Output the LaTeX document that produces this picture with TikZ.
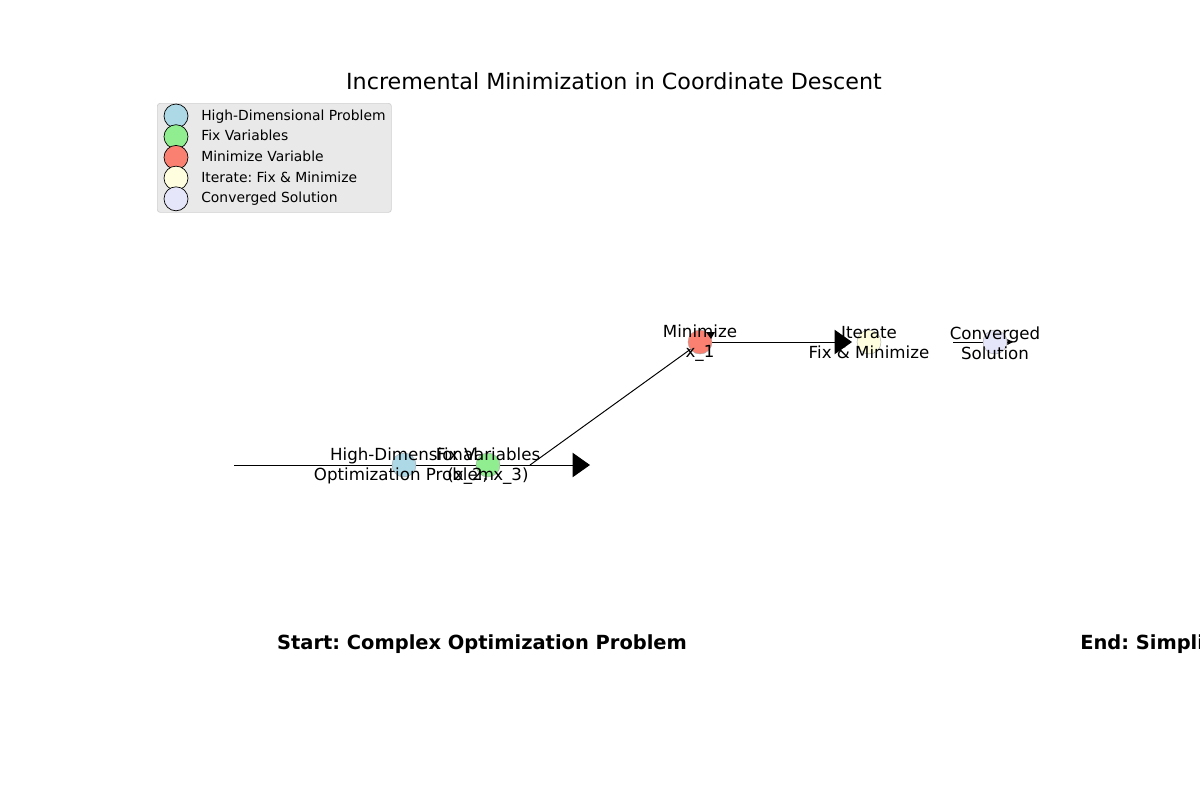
\documentclass[tikz,border=0pt]{standalone}
\usepackage{fontspec}
\setmainfont{DejaVu Sans}
\frenchspacing
\usetikzlibrary{arrows.meta}
\definecolor{cblue}{HTML}{ADD8E6}
\definecolor{cgreen}{HTML}{90EE90}
\definecolor{csalmon}{HTML}{FA8072}
\definecolor{cyellow}{HTML}{FFFFE0}
\definecolor{clav}{HTML}{E6E6FA}
\definecolor{legfill}{HTML}{E9E9E9}
\definecolor{legedge}{HTML}{D0D0D0}
\tikzset{
  gnode/.style={circle, minimum size=24*0.72pt, inner sep=0pt, draw=black!35, line width=0.3pt},
  lnode/.style={circle, minimum size=24*0.72pt, inner sep=0pt, draw=black, line width=0.5pt},
  glabel/.style={align=center, inner sep=0pt, font=\fontsize{12}{14.4}\selectfont},
  legtext/.style={anchor=base west, inner sep=0pt, font=\fontsize{10}{12}\selectfont},
  conn/.style={line width=0.7pt, draw=black},
  bigtip/.style={-{Triangle[length=12.5pt, width=17.5pt]}},
  smalltip/.style={-{Triangle[length=4pt, width=4pt]}},
  boldtext/.style={inner sep=0pt, font=\fontsize{14}{16}\selectfont\bfseries}
}
\begin{document}
\begin{tikzpicture}[x=0.72pt, y=-0.72pt]
\useasboundingbox (0,0) rectangle (1200,800);
\fill[white] (0,0) rectangle (1200,800);
\clip (0,0) rectangle (1200,800);

% title
\node[inner sep=0pt, font=\fontsize{16}{19}\selectfont] (title) at (614,81) {Incremental Minimization in Coordinate Descent};

% legend
\node[draw=legedge, fill=legfill, rounded corners=2pt, line width=0.5pt, minimum width=234*0.72pt, minimum height=109*0.72pt, anchor=north west, inner sep=0pt] (legend) at (157,103) {};
\node[lnode, fill=cblue] (l1) at (176,116) {};
\node[lnode, fill=cgreen] (l2) at (176,136.7) {};
\node[lnode, fill=csalmon] (l3) at (176,157.4) {};
\node[lnode, fill=cyellow] (l4) at (176,178.1) {};
\node[lnode, fill=clav] (l5) at (176,198.8) {};
\node[legtext] (t1) at (201,120) {High-Dimensional Problem};
\node[legtext] (t2) at (201,140.7) {Fix Variables};
\node[legtext] (t3) at (201,161.4) {Minimize Variable};
\node[legtext] (t4) at (201,182.1) {Iterate: Fix \& Minimize};
\node[legtext] (t5) at (201,202.8) {Converged Solution};

% connector coordinates
\coordinate (a1s) at (234,465);
\coordinate (a1e) at (590,465);
\coordinate (a2s) at (530,465);
\coordinate (a2e) at (695,346);
\coordinate (a3s) at (705,342);
\coordinate (a3e) at (852,342);
\coordinate (a4s) at (953,342);
\coordinate (a4e) at (1013,342);

\draw[conn, bigtip] (a1s) -- (a1e);
\draw[conn] (a2s) -- (a2e);
\draw[conn, bigtip] (a3s) -- (a3e);
\draw[conn, smalltip] (a4s) -- (a4e);

% nodes
\node[gnode, fill=cblue] (n1) at (404,465) {};
\node[gnode, fill=cgreen] (n2) at (488,465) {};
\node[gnode, fill=csalmon] (n3) at (700,342) {};
\node[gnode, fill=cyellow] (n4) at (869,342) {};
\node[gnode, fill=clav] (n5) at (995,342) {};

% small wedge on the minimize node
\fill[black] (706,332) -- (715,332) -- (711,339) -- cycle;

% labels
\node[glabel] (g1) at (404,466) {High-Dimensional\\Optimization Problem};
\node[glabel] (g2) at (488,466) {Fix Variables\\(x\_2, x\_3)};
\node[glabel] (g3) at (700,343) {Minimize\\x\_1};
\node[glabel] (g4) at (869,343) {Iterate\\Fix \& Minimize};
\node[glabel] (g5) at (995,343) {Converged\\Solution};

% bottom texts
\node[boldtext] (start) at (482,644) {Start: Complex Optimization Problem};
\node[boldtext, anchor=west] (end) at (1080,644) {End: Simplified Solution};
\end{tikzpicture}
\end{document}
